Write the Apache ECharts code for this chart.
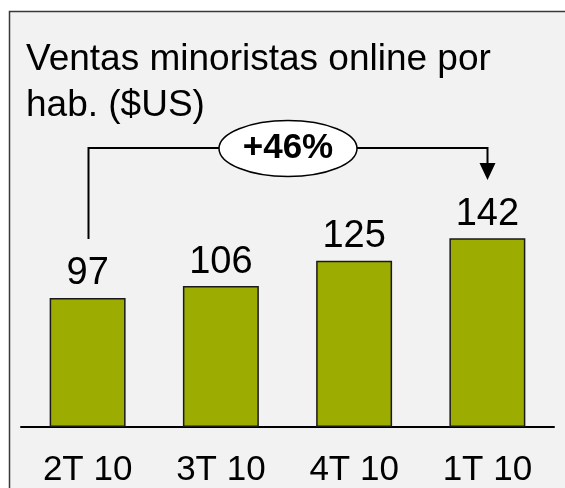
<!DOCTYPE html>
<html>
<head>
<meta charset="utf-8" />
<title>Ventas minoristas online</title>
<script src="https://cdn.jsdelivr.net/npm/echarts@6/dist/echarts.min.js"></script>
<style>
  html, body { margin: 0; padding: 0; background: #fff; }
  #chart { width: 565px; height: 488px; }
</style>
</head>
<body>
<div id="chart"></div>
<script>
// data
var quarters = ['2T 10', '3T 10', '4T 10', '1T 10'];
var ventas = [97, 106, 125, 142];
var growthLabel = '+46%';

var FONT = '"Liberation Sans", Arial, sans-serif';

var chart = echarts.init(document.getElementById('chart'), null, { renderer: 'canvas' });

var option = {
    backgroundColor: '#ffffff',
    animation: false,
    title: {
        text: 'Ventas minoristas online por\nhab. ($US)',
        left: 21,
        top: 32,
        textStyle: {
            fontFamily: FONT,
            fontSize: 37,
            fontWeight: 'normal',
            lineHeight: 46,
            color: '#000'
        }
    },
    grid: { left: 21, right: 11, top: 161, bottom: 59 },
    xAxis: {
        type: 'category',
        data: quarters,
        axisLine: { lineStyle: { color: '#000', width: 2 } },
        axisTick: { show: false },
        axisLabel: {
            margin: 26,
            fontFamily: FONT,
            fontSize: 35,
            color: '#000'
        }
    },
    yAxis: {
        type: 'value',
        min: 0,
        max: 200,
        show: false
    },
    series: [{
        type: 'bar',
        data: ventas,
        barWidth: '57%',
        itemStyle: {
            color: '#9cac00',
            borderColor: '#1a1a1a',
            borderWidth: 1.5
        },
        label: {
            show: true,
            position: 'top',
            distance: 5,
            fontFamily: FONT,
            fontSize: 38,
            color: '#000'
        }
    }]
};

chart.setOption(option);

// frame + growth bracket, placed from the axis positions
var first = chart.convertToPixel({ seriesIndex: 0 }, [0, ventas[0]]);
var last = chart.convertToPixel({ seriesIndex: 0 }, [quarters.length - 1, ventas[ventas.length - 1]]);
var x1 = Math.round(first[0]) + 0.5;
var x4 = Math.round(last[0]) + 0.5;
var yTop = 148;
var cx = (x1 + x4) / 2;

chart.setOption({
    graphic: [
        {
            type: 'rect',
            z: -10,
            shape: { x: 9.5, y: 11.5, width: 700, height: 600 },
            style: { fill: '#f2f2f2', stroke: '#3a3a3a', lineWidth: 1.5 }
        },
        {
            type: 'polyline',
            shape: { points: [[x1, 239], [x1, yTop], [x4, yTop], [x4, 164]] },
            style: { stroke: '#000', lineWidth: 2, fill: null }
        },
        {
            type: 'polygon',
            shape: { points: [[x4 - 8, 163], [x4 + 8, 163], [x4, 180]] },
            style: { fill: '#000' }
        },
        {
            type: 'ellipse',
            shape: { cx: cx, cy: 148.5, rx: 69, ry: 28 },
            style: { fill: '#fff', stroke: '#000', lineWidth: 1.5 }
        },
        {
            type: 'text',
            x: cx,
            y: 148,
            style: {
                text: growthLabel,
                fontFamily: FONT,
                fontSize: 35,
                fontWeight: 'bold',
                fill: '#000',
                align: 'center',
                verticalAlign: 'middle'
            }
        }
    ]
});
</script>
</body>
</html>
